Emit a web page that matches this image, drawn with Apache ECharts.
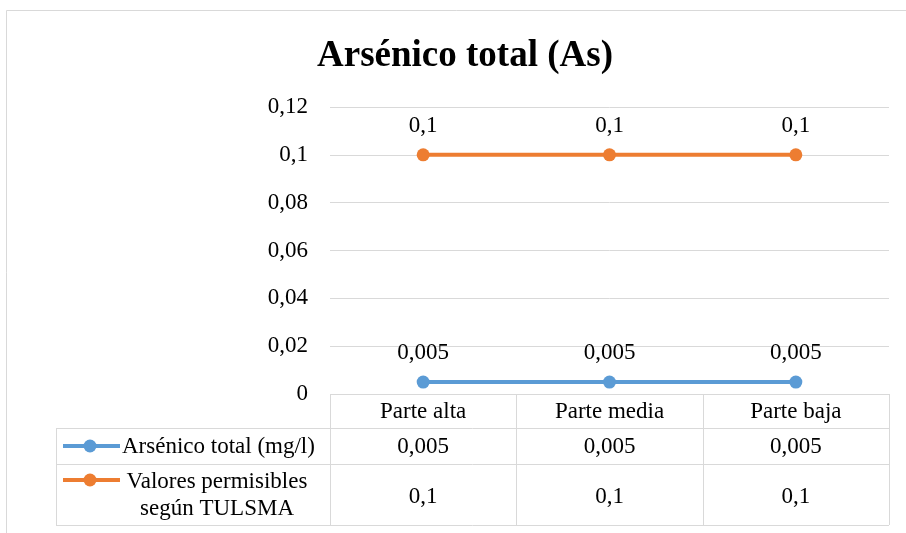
<!DOCTYPE html>
<html>
<head>
<meta charset="utf-8">
<script src="https://cdn.jsdelivr.net/npm/echarts@6/dist/echarts.min.js"></script>
<style>
  html, body { margin: 0; padding: 0; background: #fff; }
  #chart { width: 906px; height: 533px; }
</style>
</head>
<body>
<div id="chart"></div>
<script>
// Sampling points along the river
const categories = ['Parte alta', 'Parte media', 'Parte baja'];
// Measured total arsenic (mg/l)
const arsenicValues = [0.005, 0.005, 0.005];
// Permissible limit per TULSMA (mg/l)
const limitValues = [0.1, 0.1, 0.1];
const seriesNames = ['Arsénico total (mg/l)', 'Valores permisibles\nsegún TULSMA'];
const seriesColors = ['#5B9BD5', '#ED7D31'];

const FONT = '"Liberation Serif", "Times New Roman", serif';
const FS = 23;
const fmt = v => String(v).replace('.', ',');

// Plot rectangle
const gridLeft = 330, gridRight = 889, gridTop = 107, gridBottom = 394;
// Data table geometry
const tableLeft = 56;
const rowLines = [394, 428, 464, 525];

const chart = echarts.init(document.getElementById('chart'));

function buildTable() {
  const els = [];
  const line = (x1, y1, x2, y2) => ({
    type: 'line', silent: true,
    shape: { x1, y1, x2, y2 },
    style: { stroke: '#d9d9d9', lineWidth: 1 }
  });
  const text = (x, y, t, align) => ({
    type: 'text', silent: true,
    x, y,
    style: { text: t, font: FS + 'px ' + FONT, fill: '#000', align: align || 'center', verticalAlign: 'middle', lineHeight: 27 }
  });
  const colW = (gridRight - gridLeft) / categories.length;
  // horizontal rules
  els.push(line(gridLeft, rowLines[0] + 0.5, gridRight, rowLines[0] + 0.5));
  for (let i = 1; i < rowLines.length; i++) {
    els.push(line(tableLeft, rowLines[i] + 0.5, gridRight, rowLines[i] + 0.5));
  }
  // vertical rules
  for (let c = 0; c <= categories.length; c++) {
    const x = Math.round(gridLeft + c * colW) + 0.5;
    els.push(line(x, rowLines[0], x, rowLines[3]));
  }
  els.push(line(tableLeft + 0.5, rowLines[1], tableLeft + 0.5, rowLines[3]));
  // header row: categories
  categories.forEach((c, i) => {
    els.push(text(gridLeft + (i + 0.5) * colW, (rowLines[0] + rowLines[1]) / 2 + 1, c));
  });
  // value rows
  const rows = [arsenicValues, limitValues];
  rows.forEach((vals, r) => {
    const yMid = (rowLines[r + 1] + rowLines[r + 2]) / 2 + 1;
    vals.forEach((v, i) => {
      els.push(text(gridLeft + (i + 0.5) * colW, r === 0 ? yMid : yMid + 1, fmt(v)));
    });
    // legend key
    const keyY = r === 0 ? yMid - 1 : 480;
    els.push({
      type: 'line', silent: true,
      shape: { x1: 63, y1: keyY, x2: 120, y2: keyY },
      style: { stroke: seriesColors[r], lineWidth: 4 }
    });
    els.push({
      type: 'circle', silent: true,
      shape: { cx: 90, cy: keyY, r: 6.5 },
      style: { fill: seriesColors[r] }
    });
    if (r === 0) {
      els.push(text(122, yMid, seriesNames[0], 'left'));
    } else {
      els.push(text(217, yMid, seriesNames[1], 'center'));
    }
  });
  // chart frame
  els.push({
    type: 'rect', silent: true,
    shape: { x: 6.5, y: 10.5, width: 920, height: 540 },
    style: { fill: 'none', stroke: '#d9d9d9', lineWidth: 1 }
  });
  return els;
}

const labelStyle = {
  show: true, position: 'top', distance: 11,
  fontFamily: FONT, fontSize: FS, color: '#000',
  formatter: p => fmt(p.value)
};

chart.setOption({
  animation: false,
  backgroundColor: '#fff',
  title: {
    text: 'Arsénico total (As)',
    left: 460, top: 33, textAlign: 'center',
    textStyle: { fontFamily: FONT, fontSize: 37, fontWeight: 'bold', color: '#000' }
  },
  grid: { left: gridLeft, right: 906 - gridRight, top: gridTop, bottom: 533 - gridBottom, containLabel: false },
  xAxis: {
    type: 'category', data: categories, boundaryGap: true,
    axisLine: { show: false }, axisTick: { show: false }, axisLabel: { show: false }
  },
  yAxis: {
    type: 'value', min: 0, max: 0.12, interval: 0.02,
    axisLine: { show: false }, axisTick: { show: false },
    axisLabel: {
      fontFamily: FONT, fontSize: FS, color: '#000', margin: 22,
      formatter: v => fmt(Math.round(v * 100) / 100)
    },
    splitLine: { lineStyle: { color: '#d9d9d9', width: 1 } }
  },
  series: [
    {
      name: seriesNames[0], type: 'line', data: arsenicValues,
      symbol: 'circle', symbolSize: 13,
      lineStyle: { color: seriesColors[0], width: 4 },
      itemStyle: { color: seriesColors[0] },
      label: labelStyle
    },
    {
      name: seriesNames[1], type: 'line', data: limitValues,
      symbol: 'circle', symbolSize: 13,
      lineStyle: { color: seriesColors[1], width: 4 },
      itemStyle: { color: seriesColors[1] },
      label: labelStyle
    }
  ],
  graphic: buildTable()
});
</script>
</body>
</html>
